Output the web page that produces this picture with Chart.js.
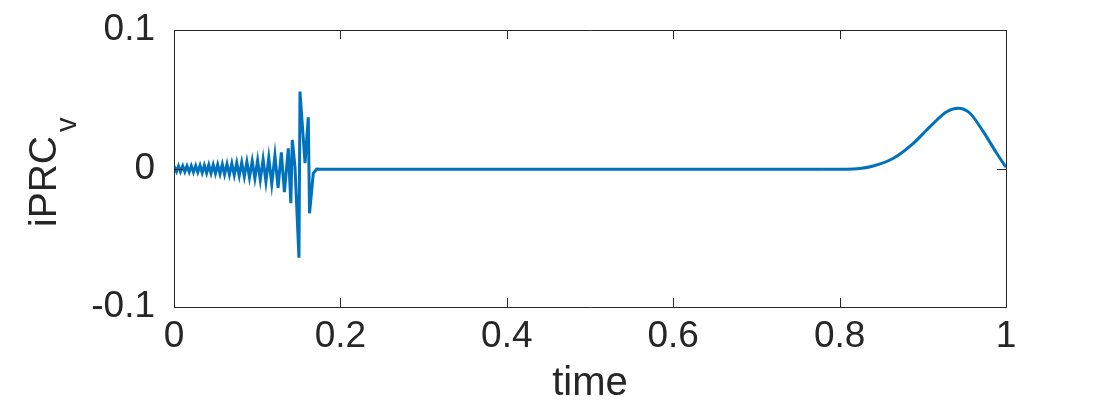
<!DOCTYPE html>
<html>
<head>
<meta charset="utf-8">
<script src="https://cdn.jsdelivr.net/npm/chart.js@4"></script>
<style>
  html, body { margin: 0; padding: 0; background: #ffffff; }
  #wrap { width: 1112px; height: 408px; }
</style>
</head>
<body>
<div id="wrap"><canvas id="myChart" width="1112" height="408"></canvas></div>
<script>
// spiky part (start of the cycle) and flat stretch
let timeOsc = [0, 0.0030, 0.0054, 0.0078, 0.0105, 0.0130, 0.0156, 0.0183, 0.0208, 0.0234,
  0.0261, 0.0286, 0.0313, 0.0339, 0.0365, 0.0392, 0.0418, 0.0445, 0.0471, 0.0498,
  0.0525, 0.0553, 0.0581, 0.0608, 0.0637, 0.0666, 0.0695, 0.0724, 0.0754, 0.0784,
  0.0814, 0.0845, 0.0876, 0.0907, 0.0940, 0.0972, 0.1005, 0.1037, 0.1071, 0.1105,
  0.1139, 0.1175, 0.1213, 0.1251, 0.1290, 0.1327, 0.1374, 0.1404, 0.1422, 0.1454,
  0.1502, 0.1514, 0.1575, 0.1614, 0.1629, 0.1674, 0.1715, 0.1755, 0.40, 0.60, 0.78];
let ivOsc = [0.0018, -0.0022, 0.0018, -0.0023, 0.0018, -0.0023, 0.0018, -0.0025, 0.0019, -0.0027,
  0.0020, -0.0027, 0.0022, -0.0030, 0.0023, -0.0032, 0.0025, -0.0034, 0.0026, -0.0036,
  0.0028, -0.0039, 0.0030, -0.0042, 0.0033, -0.0045, 0.0036, -0.0048, 0.0040, -0.0053,
  0.0043, -0.0058, 0.0048, -0.0064, 0.0053, -0.0071, 0.0058, -0.0082, 0.0066, -0.0095,
  0.0077, -0.0113, 0.0094, -0.0139, 0.0116, -0.0170, 0.0146, -0.0251, 0.0206, 0.0013,
  -0.0644, 0.0555, 0.0038, 0.0370, -0.0323, -0.0035, -0.0004, -0.0006, -0.0006, -0.0006, -0.0005];

// smooth bump near the end
let timeBump = [0.78, 0.8085, 0.8245, 0.8405, 0.8646, 0.8886, 0.9087, 0.9287, 0.9427, 0.9567, 0.9727, 0.9888, 1.0];
let ivBump = [-0.0005, -0.0005, 0.0000, 0.0018, 0.0074, 0.0182, 0.0302, 0.0410, 0.0435, 0.0399, 0.0266, 0.0110, 0.0009];

let xTicks = [0, 0.2, 0.4, 0.6, 0.8, 1];
let yTicks = [-0.1, 0, 0.1];

let lineColor = '#0072BD';
let axisColor = '#262626';
let fontName = '"Liberation Sans", Arial, Helvetica, sans-serif';

function toPoints(xs, ys) {
  return xs.map((x, i) => ({ x: x, y: ys[i] }));
}

// box round the plot with ticks pointing inward, like the original
let boxPlugin = {
  id: 'boxPlugin',
  afterDatasetsDraw(chart) {
    let ctx = chart.ctx;
    let a = chart.chartArea;
    let xs = chart.scales.x;
    let ys = chart.scales.y;
    let tl = 9;
    ctx.save();
    ctx.strokeStyle = axisColor;
    ctx.lineWidth = 1;
    ctx.beginPath();
    ctx.rect(a.left + 0.5, a.top + 0.5, a.right - a.left, a.bottom - a.top);
    xTicks.forEach(v => {
      let px = Math.round(xs.getPixelForValue(v)) + 0.5;
      ctx.moveTo(px, a.bottom);
      ctx.lineTo(px, a.bottom - tl);
      ctx.moveTo(px, a.top);
      ctx.lineTo(px, a.top + tl);
    });
    yTicks.forEach(v => {
      let py = Math.round(ys.getPixelForValue(v)) + 0.5;
      ctx.moveTo(a.left, py);
      ctx.lineTo(a.left + tl, py);
      ctx.moveTo(a.right, py);
      ctx.lineTo(a.right - tl, py);
    });
    ctx.stroke();
    ctx.restore();
  },
  afterDraw(chart) {
    // y axis title with subscript
    let ctx = chart.ctx;
    ctx.save();
    ctx.fillStyle = axisColor;
    ctx.translate(56, 227);
    ctx.rotate(-Math.PI / 2);
    ctx.textBaseline = 'alphabetic';
    ctx.textAlign = 'left';
    ctx.font = '39px ' + fontName;
    ctx.fillText('iPRC', 0, 0);
    let w = ctx.measureText('iPRC').width;
    ctx.font = '29px ' + fontName;
    ctx.fillText('v', w + 4, 20);
    ctx.restore();
  }
};

let myChart = document.getElementById('myChart').getContext('2d');

let chart = new Chart(myChart, {
  type: 'line',
  data: {
    datasets: [
      {
        data: toPoints(timeOsc, ivOsc),
        borderColor: lineColor,
        borderWidth: 3,
        pointRadius: 0,
        tension: 0,
        fill: false
      },
      {
        data: toPoints(timeBump, ivBump),
        borderColor: lineColor,
        borderWidth: 3,
        pointRadius: 0,
        cubicInterpolationMode: 'monotone',
        fill: false
      }
    ]
  },
  options: {
    responsive: false,
    animation: false,
    events: [],
    layout: { padding: { left: 0, right: 106, top: 30, bottom: 0 } },
    plugins: {
      legend: { display: false },
      tooltip: { enabled: false }
    },
    scales: {
      x: {
        type: 'linear',
        min: 0,
        max: 1,
        grid: { display: false },
        border: { display: false },
        afterFit: s => { s.height = 101; },
        afterBuildTicks: s => { s.ticks = xTicks.map(v => ({ value: v })); },
        ticks: {
          color: axisColor,
          padding: 0,
          maxRotation: 0,
          font: { family: fontName, size: 37 },
          callback: v => String(v)
        },
        title: {
          display: true,
          text: 'time',
          color: axisColor,
          font: { family: fontName, size: 40 },
          padding: { top: 0, bottom: 0 }
        }
      },
      y: {
        min: -0.1,
        max: 0.1,
        grid: { display: false },
        border: { display: false },
        afterFit: s => { s.width = 174; s.paddingTop = 0; s.paddingBottom = 0; },
        afterBuildTicks: s => { s.ticks = yTicks.map(v => ({ value: v })); },
        ticks: {
          color: axisColor,
          padding: 11,
          font: { family: fontName, size: 37 },
          callback: v => String(v)
        }
      }
    }
  },
  plugins: [boxPlugin]
});
</script>
</body>
</html>
